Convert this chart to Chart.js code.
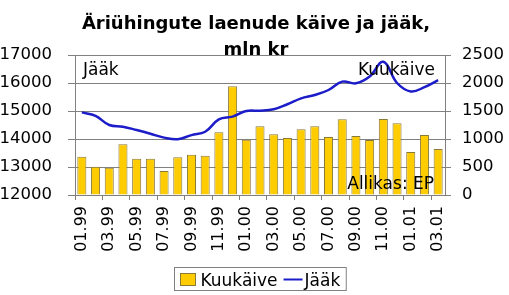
<!DOCTYPE html>
<html>
<head>
<meta charset="utf-8">
<script src="https://cdn.jsdelivr.net/npm/chart.js@4"></script>
<style>
  body { margin: 0; background: #fff; }
  #wrap { width: 509px; height: 295px; }
</style>
</head>
<body>
<div id="wrap"><canvas id="chart"></canvas></div>
<script>
const months = ['01.99','02.99','03.99','04.99','05.99','06.99','07.99','08.99','09.99','10.99','11.99','12.99',
                '01.00','02.00','03.00','04.00','05.00','06.00','07.00','08.00','09.00','10.00','11.00','12.00',
                '01.01','02.01','03.01'];
// Kuukäive (parem telg)
const kuukaive = [685, 506, 488, 905, 649, 649, 429, 673, 720, 702, 1119, 1940, 988, 1226,
                  1083, 1018, 1173, 1226, 1036, 1351, 1054, 982, 1357, 1280, 768, 1071, 821];
// Jääk (vasak telg)
const jaak = [14950, 14825, 14500, 14440, 14320, 14190, 14050, 13990, 14140, 14260, 14700, 14800, 15000, 15010,
              15060, 15240, 15450, 15570, 15750, 16050, 15990, 16230, 16760, 16000, 15700, 15850, 16100];

const font = '"DejaVu Sans", Verdana, sans-serif';
const grey = '#808080';

const texts = {
  id: 'texts',
  afterDraw(chart) {
    const { ctx, chartArea: a } = chart;
    ctx.save();
    ctx.fillStyle = '#000';
    ctx.textBaseline = 'alphabetic';
    // pealkiri
    ctx.font = 'bold 18px ' + font;
    ctx.textAlign = 'center';
    ctx.fillText('Äriühingute laenude käive ja jääk,', 256, 29);
    ctx.fillText('mln kr', 256, 55);
    // sildid graafikul
    ctx.font = '17px ' + font;
    ctx.textAlign = 'left';
    ctx.fillText('Jääk', a.left + 8, 75);
    ctx.textAlign = 'right';
    ctx.fillText('Kuukäive', a.right - 10, 75);
    ctx.fillText('Allikas: EP', a.right - 11, 189);

    // legend
    const ds = chart.data.datasets;
    ctx.textAlign = 'left';
    const w1 = ctx.measureText(ds[0].label).width;
    const w2 = ctx.measureText(ds[1].label).width;
    const total = 6 + 15 + 5 + w1 + 6 + 19 + 2 + w2 + 6;
    const x0 = Math.round(259.5 - total / 2) + 0.5, y0 = 267.5;
    ctx.strokeStyle = grey;
    ctx.lineWidth = 1;
    ctx.strokeRect(x0, y0, total, 23);
    let x = x0 + 6;
    ctx.fillStyle = ds[0].backgroundColor;
    ctx.fillRect(x, y0 + 6, 15, 12);
    ctx.strokeStyle = ds[0].borderColor;
    ctx.strokeRect(x, y0 + 6, 15, 12);
    x += 20;
    ctx.fillStyle = '#000';
    ctx.fillText(ds[0].label, x, y0 + 18);
    x += w1 + 6;
    ctx.strokeStyle = ds[1].borderColor;
    ctx.lineWidth = 2;
    ctx.beginPath();
    ctx.moveTo(x, y0 + 12);
    ctx.lineTo(x + 19, y0 + 12);
    ctx.stroke();
    x += 21;
    ctx.fillText(ds[1].label, x, y0 + 18);
    ctx.restore();
  }
};

new Chart(document.getElementById('chart'), {
  data: {
    labels: months,
    datasets: [
      {
        type: 'bar',
        label: 'Kuukäive',
        data: kuukaive,
        yAxisID: 'y2',
        backgroundColor: '#FFCC00',
        borderColor: '#8a7a3a',
        borderWidth: 1,
        categoryPercentage: 1,
        barPercentage: 0.66,
        order: 1
      },
      {
        type: 'line',
        label: 'Jääk',
        data: jaak,
        yAxisID: 'y',
        borderColor: '#1c1cc8',
        borderWidth: 2.5,
        pointRadius: 0,
        tension: 0.4,
        order: 0
      }
    ]
  },
  options: {
    responsive: true,
    maintainAspectRatio: false,
    animation: false,
    layout: { padding: { top: 55, left: 0, right: 0, bottom: 0 } },
    plugins: {
      legend: { display: false },
      title: { display: false },
      tooltip: { enabled: false }
    },
    scales: {
      x: {
        offset: true,
        afterFit(s) { s.height = 100; },
        grid: {
          drawOnChartArea: false,
          tickLength: 5,
          color: c => (c.index % 2 === 0 ? grey : 'rgba(0,0,0,0)')
        },
        border: { color: grey },
        ticks: {
          autoSkip: false,
          minRotation: 90,
          maxRotation: 90,
          padding: 6,
          color: '#000',
          font: { family: font, size: 16 },
          callback: (v, i) => (i % 2 === 0 ? months[i] : '')
        }
      },
      y: {
        position: 'left',
        min: 12000,
        max: 17000,
        afterFit(s) { s.width = 75; },
        grid: { color: grey, tickLength: 7 },
        border: { color: grey },
        ticks: {
          stepSize: 1000,
          padding: 16,
          color: '#000',
          font: { family: font, size: 16.5 },
          callback: v => String(v)
        }
      },
      y2: {
        position: 'right',
        min: 0,
        max: 2500,
        afterFit(s) { s.width = 64; },
        grid: { drawOnChartArea: false, color: grey, tickLength: 6 },
        border: { color: grey },
        ticks: {
          stepSize: 500,
          padding: 11,
          color: '#000',
          font: { family: font, size: 16.5 },
          callback: v => String(v)
        }
      }
    }
  },
  plugins: [texts]
});
</script>
</body>
</html>
